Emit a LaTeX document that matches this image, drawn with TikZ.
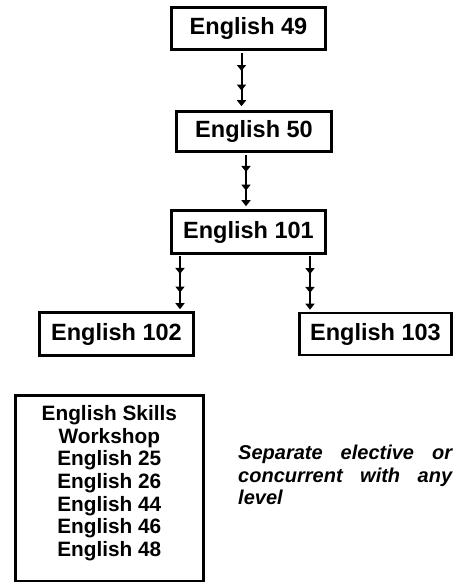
\documentclass[tikz,border=0pt]{standalone}
\usepackage{fontspec}
\setmainfont{Liberation Sans}
\usetikzlibrary{arrows.meta,decorations.markings}
\begin{document}
\begin{tikzpicture}[x=1pt,y=-1pt,
  box/.style={draw, line width=2.6pt, inner sep=0pt,
    font=\bfseries\fontsize{23.5}{25}\selectfont},
  chainarrow/.style={line width=2pt,
    -{Triangle[width=9pt,length=6pt]},
    postaction={decorate},
    decoration={markings,
      mark=at position 0.34 with {\arrow{Triangle[width=9pt,length=6pt]}},
      mark=at position 0.67 with {\arrow{Triangle[width=9pt,length=6pt]}}}}]
\useasboundingbox (0,0) rectangle (453,582);
\node[box, minimum width=154pt, minimum height=42pt] (e49) at (248.5,28.5) {English 49};
\node[box, minimum width=155pt, minimum height=40pt] (e50) at (254,131.5) {English 50};
\node[box, minimum width=154pt, minimum height=43pt] (e101) at (248.5,232) {English 101};
\node[box, minimum width=154pt, minimum height=43pt] (e102) at (116.5,334) {English 102};
\node[box, minimum width=152pt, minimum height=42pt] (e103) at (375.5,334) {English 103};
\draw[chainarrow, shorten <=2pt, shorten >=4pt]
  ([xshift=-7pt]e49.south) -- ([xshift=-7pt]e49.south |- e50.north);
\draw[chainarrow, shorten <=2pt, shorten >=3pt]
  ([xshift=-8pt]e50.south) -- ([xshift=-8pt]e50.south |- e101.north);
\draw[chainarrow, shorten <=1pt, shorten >=2pt]
  ([xshift=63.5pt]e102.north |- e101.south) -- ([xshift=63.5pt]e102.north);
\draw[chainarrow, shorten <=1pt, shorten >=2pt]
  ([xshift=-65.5pt]e103.north |- e101.south) -- ([xshift=-65.5pt]e103.north);
\node[draw, line width=2.6pt, inner sep=0pt, anchor=north west,
  font=\bfseries\fontsize{20.8}{22.7}\selectfont] (ws) at (14,394)
  {\parbox[t][186pt][t]{188pt}{\centering\vspace*{10pt}English Skills\\Workshop\\English 25\\English 26\\English 44\\English 46\\English 48}};
\node[anchor=north west, inner sep=0pt, align=left,
  font=\bfseries\itshape\fontsize{20}{22.5}\selectfont] (note) at (238,445)
  {\makebox[214pt][s]{Separate elective or}\\\makebox[214pt][s]{concurrent with any}\\level};
\end{tikzpicture}
\end{document}
